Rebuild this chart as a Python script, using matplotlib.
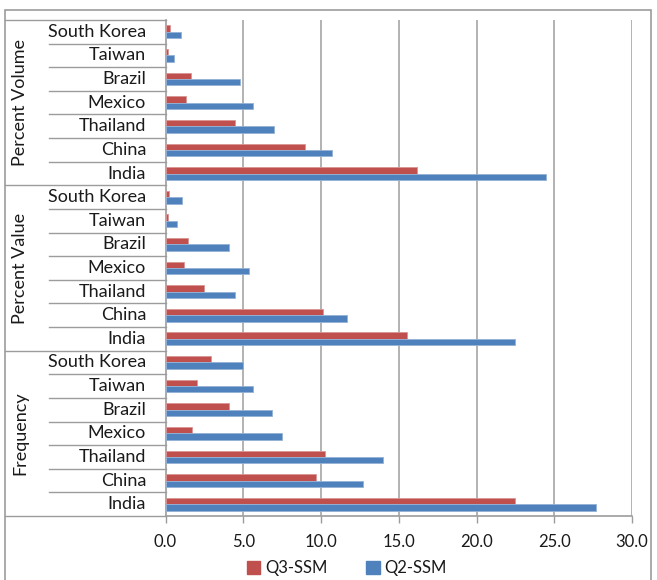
import matplotlib
matplotlib.use("Agg")
import matplotlib.pyplot as plt
import matplotlib.transforms as mtransforms
from matplotlib.patches import Rectangle, Patch
from matplotlib.lines import Line2D
import numpy as np

plt.rcParams['font.family'] = ['Lato', 'DejaVu Sans']

# Category structure (listed bottom to top, as drawn on the axis)
countries = ["India", "China", "Thailand", "Mexico", "Brazil", "Taiwan", "South Korea"]
groups = ["Frequency", "Percent Value", "Percent Volume"]

# Values per group, in the order of `countries`
q3_frequency = [22.5, 9.7, 10.25, 1.7, 4.1, 2.0, 2.9]
q2_frequency = [27.7, 12.7, 14.0, 7.5, 6.85, 5.65, 5.0]
q3_pct_value = [15.5, 10.1, 2.45, 1.2, 1.45, 0.15, 0.25]
q2_pct_value = [22.5, 11.7, 4.5, 5.35, 4.1, 0.75, 1.05]
q3_pct_volume = [16.15, 8.95, 4.45, 1.3, 1.65, 0.15, 0.3]
q2_pct_volume = [24.45, 10.7, 7.0, 5.65, 4.8, 0.55, 1.0]

series_names = ["Q3-SSM", "Q2-SSM"]
x_ticks = [0, 5, 10, 15, 20, 25, 30]

RED = "#C0504D"
BLUE = "#4F81BD"
GRID = "#A6A6A6"
LINE = "#9C9C9C"
TEXT = "#1A1A1A"

q3 = q3_frequency + q3_pct_value + q3_pct_volume
q2 = q2_frequency + q2_pct_value + q2_pct_volume
n = len(q3)
pos = np.arange(n)

W, H = 657, 580
fig = plt.figure(figsize=(W / 100, H / 100), dpi=100)

def fx(px):
    return px / W

def fy(py):
    return 1 - py / H

ax_left, ax_right, ax_top, ax_bottom = 165.5, 632.0, 20.0, 516.0
ax = fig.add_axes([fx(ax_left), fy(ax_bottom), fx(ax_right) - fx(ax_left),
                   fy(ax_top) - fy(ax_bottom)])

bh = 0.27
ax.barh(pos + bh / 2, q3, height=bh, color=RED, edgecolor="#D99694",
        linewidth=0.6, zorder=3)
ax.barh(pos - bh / 2, q2, height=bh, color=BLUE, edgecolor="#95B3D7",
        linewidth=0.6, zorder=3)

ax.set_xlim(0, 30)
ax.set_ylim(-0.5, n - 0.5)
ax.set_xticks(x_ticks)
ax.set_xticklabels([f"{v:.1f}" for v in x_ticks], fontsize=12, color=TEXT)
ax.tick_params(axis="x", direction="out", length=5, width=1, color=LINE, pad=8)
ax.set_yticks([])
for v in x_ticks[1:]:
    ax.axvline(v, color=GRID, lw=1.2, zorder=1)

for s in ["top", "right"]:
    ax.spines[s].set_visible(False)
ax.spines["left"].set_color(LINE)
ax.spines["bottom"].set_color(LINE)
ax.spines["left"].set_linewidth(1.2)
ax.spines["bottom"].set_linewidth(1.2)

# Multi-level category axis: country labels, group labels and separators
tr = mtransforms.blended_transform_factory(fig.transFigure, ax.transData)
label_right = fx(146)
sep_left_country = fx(49)
frame_left = fx(5)
axis_x = fx(ax_left)

for gi, g in enumerate(groups):
    base = gi * len(countries)
    for ci, c in enumerate(countries):
        y = base + ci
        ax.text(label_right, y, c, transform=tr, ha="right", va="center",
                fontsize=13, color=TEXT)
        if ci > 0:
            ax.add_line(Line2D([sep_left_country, axis_x], [y - 0.5, y - 0.5],
                               transform=tr, color=LINE, lw=1.0, clip_on=False))
    ax.add_line(Line2D([frame_left, axis_x], [base - 0.5, base - 0.5],
                       transform=tr, color=LINE, lw=1.0, clip_on=False))
    ax.text(fx(20), base + (len(countries) - 1) / 2, g, transform=tr,
            rotation=90, ha="center", va="center", fontsize=13, color=TEXT)
ax.add_line(Line2D([frame_left, axis_x], [n - 0.5, n - 0.5],
                   transform=tr, color=LINE, lw=1.0, clip_on=False))

# Outer chart frame
fig.add_artist(Rectangle((fx(5), fy(H + 5)), fx(651) - fx(5), fy(10) - fy(H + 5),
                         transform=fig.transFigure, fill=False,
                         edgecolor=LINE, lw=1.2))

handles = [Patch(facecolor=RED, edgecolor=RED), Patch(facecolor=BLUE, edgecolor=BLUE)]
fig.legend(handles, series_names, loc="center", ncol=2,
           bbox_to_anchor=(fx(347), fy(568)), frameon=False, fontsize=12,
           handlelength=0.8, handleheight=0.8, handletextpad=0.3,
           columnspacing=2.3, labelcolor=TEXT)

fig.savefig("out.png", dpi=100)
